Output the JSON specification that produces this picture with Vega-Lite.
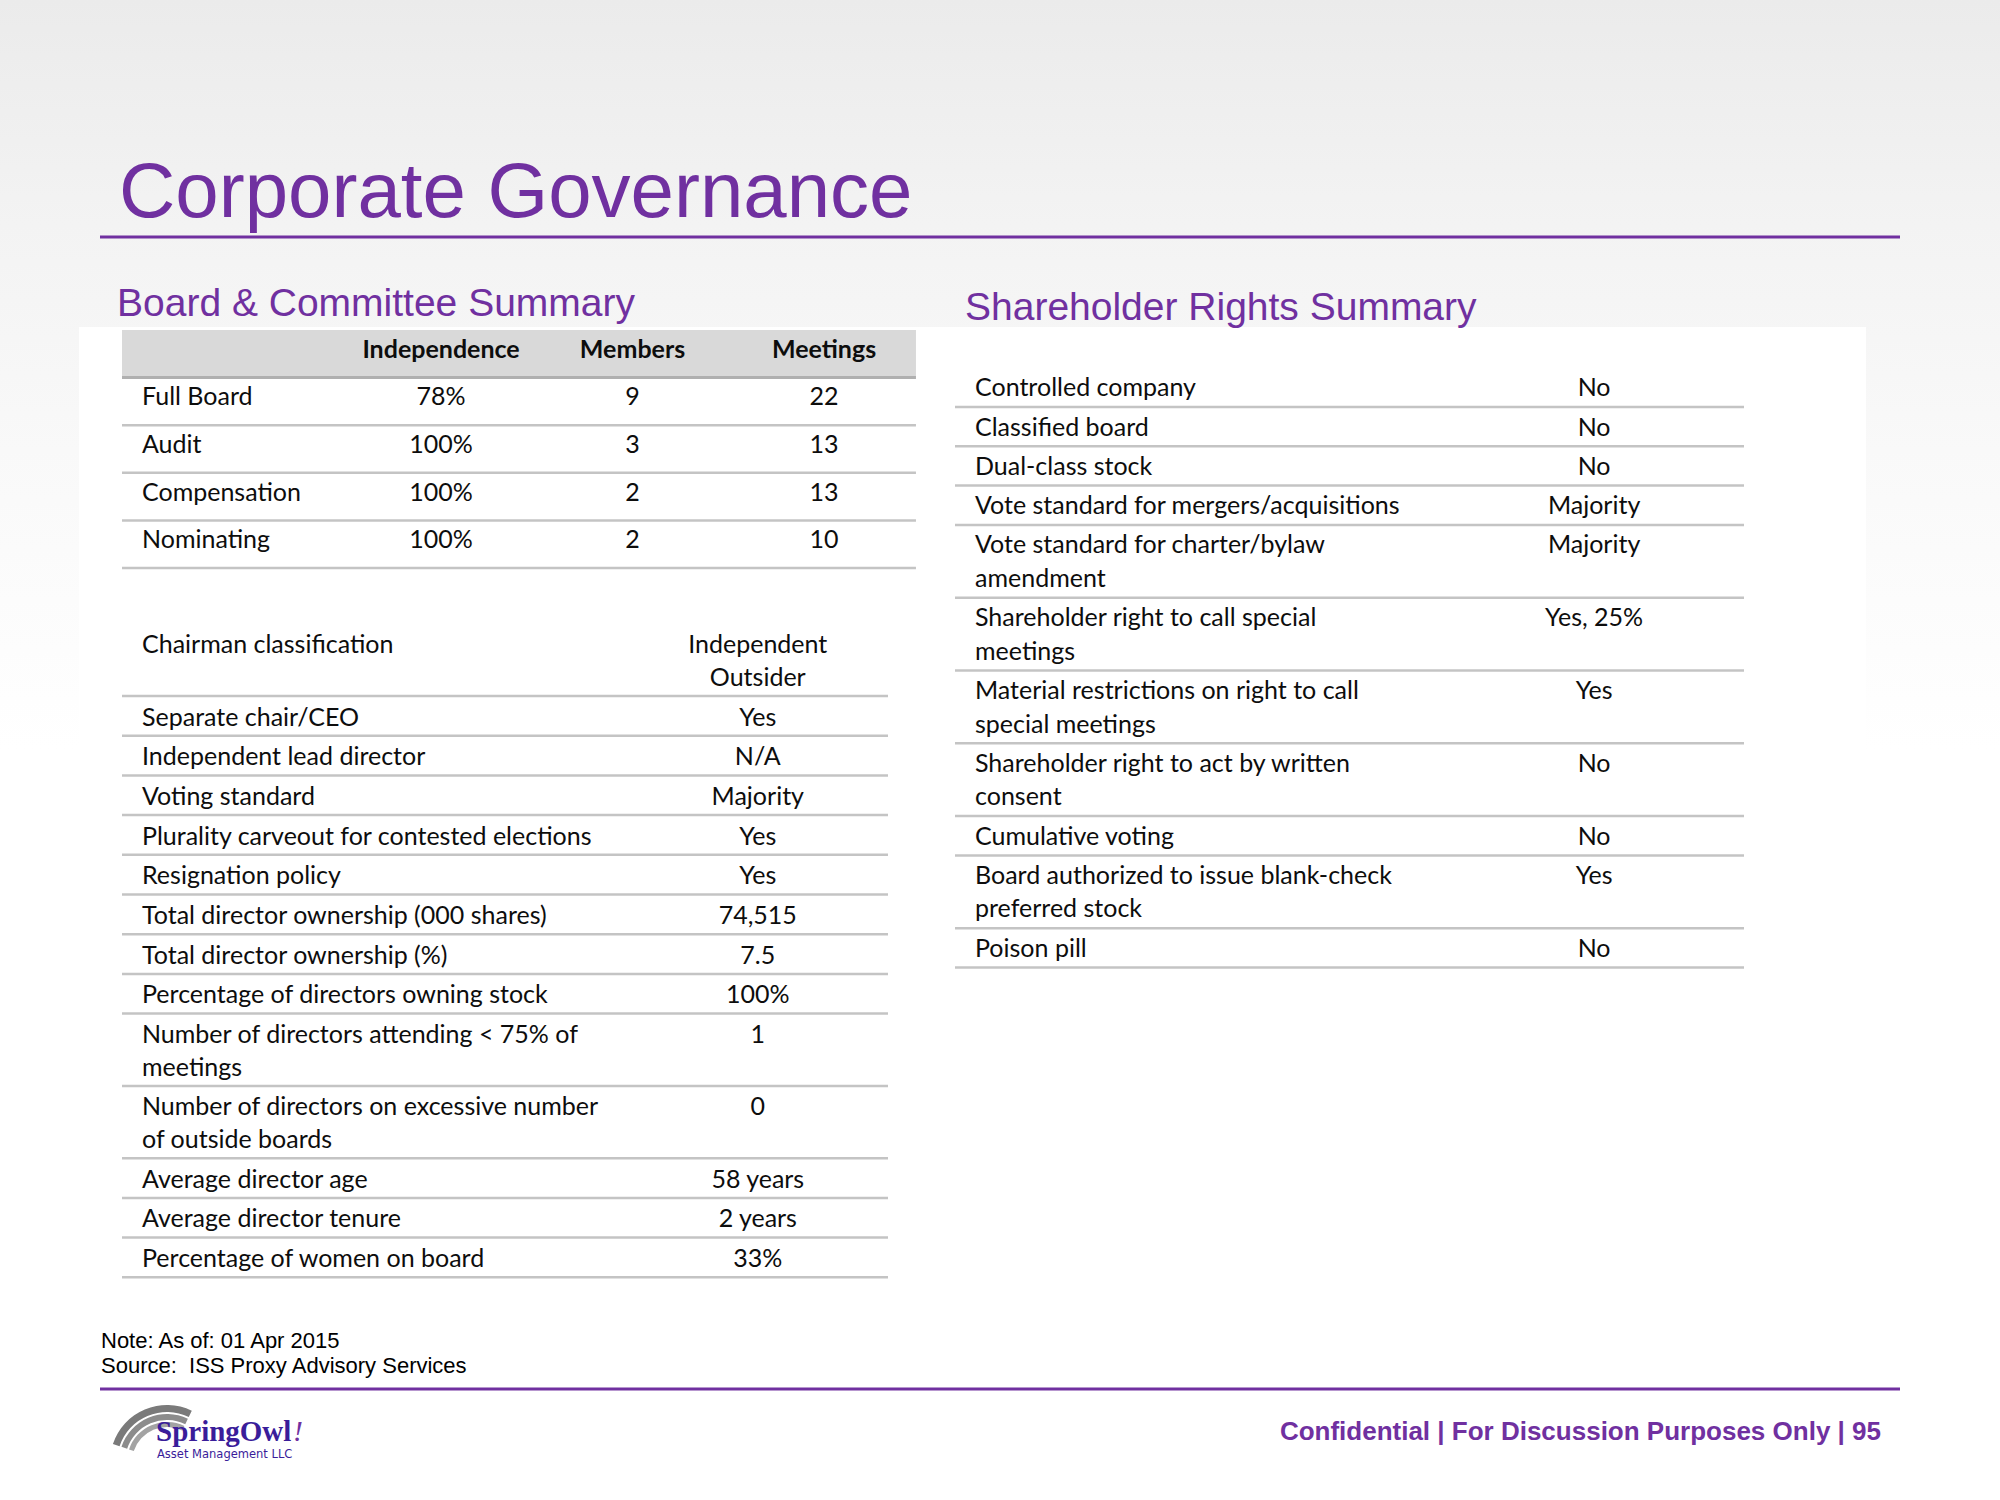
{
  "$schema": "https://vega.github.io/schema/vega-lite/v6.json",
  "width": 2000,
  "height": 1500,
  "autosize": {"type": "fit", "contains": "padding"},
  "padding": 0,
  "background": "#ffffff",
  "config": {"view": {"stroke": null}, "text": {"font": "Lato", "fontSize": 25, "color": "#0d0d0d"}},
  "datasets": {
    "committee": [
      {"committee": "Full Board", "Independence": "78%", "Members": 9, "Meetings": 22},
      {"committee": "Audit", "Independence": "100%", "Members": 3, "Meetings": 13},
      {"committee": "Compensation", "Independence": "100%", "Members": 2, "Meetings": 13},
      {"committee": "Nominating", "Independence": "100%", "Members": 2, "Meetings": 10}
    ],
    "board": [
      {"label": "Chairman classification", "value": "Independent\nOutsider", "lines": 2},
      {"label": "Separate chair/CEO", "value": "Yes", "lines": 1},
      {"label": "Independent lead director", "value": "N/A", "lines": 1},
      {"label": "Voting standard", "value": "Majority", "lines": 1},
      {"label": "Plurality carveout for contested elections", "value": "Yes", "lines": 1},
      {"label": "Resignation policy", "value": "Yes", "lines": 1},
      {"label": "Total director ownership (000 shares)", "value": "74,515", "lines": 1},
      {"label": "Total director ownership (%)", "value": "7.5", "lines": 1},
      {"label": "Percentage of directors owning stock", "value": "100%", "lines": 1},
      {"label": "Number of directors attending < 75% of\nmeetings", "value": "1", "lines": 2},
      {"label": "Number of directors on excessive number\nof outside boards", "value": "0", "lines": 2},
      {"label": "Average director age", "value": "58 years", "lines": 1},
      {"label": "Average director tenure", "value": "2 years", "lines": 1},
      {"label": "Percentage of women on board", "value": "33%", "lines": 1}
    ],
    "rights": [
      {"label": "Controlled company", "value": "No", "lines": 1},
      {"label": "Classified board", "value": "No", "lines": 1},
      {"label": "Dual-class stock", "value": "No", "lines": 1},
      {"label": "Vote standard for mergers/acquisitions", "value": "Majority", "lines": 1},
      {"label": "Vote standard for charter/bylaw\namendment", "value": "Majority", "lines": 2},
      {"label": "Shareholder right to call special\nmeetings", "value": "Yes, 25%", "lines": 2},
      {"label": "Material restrictions on right to call\nspecial meetings", "value": "Yes", "lines": 2},
      {"label": "Shareholder right to act by written\nconsent", "value": "No", "lines": 2},
      {"label": "Cumulative voting", "value": "No", "lines": 1},
      {"label": "Board authorized to issue blank-check\npreferred stock", "value": "Yes", "lines": 2},
      {"label": "Poison pill", "value": "No", "lines": 1}
    ]
  },
  "layer": [
    {
      "data": {"values": [{}]},
      "mark": {"type": "rect", "fill": {"gradient": "linear", "x1": 0, "y1": 0, "x2": 0, "y2": 1, "stops": [{"offset": 0, "color": "#ebebeb"}, {"offset": 0.15, "color": "#f3f3f3"}, {"offset": 0.3, "color": "#f9f9f9"}, {"offset": 0.5, "color": "#ffffff"}, {"offset": 1, "color": "#ffffff"}]}},
      "encoding": {"x": {"value": 0}, "x2": {"value": 2000}, "y": {"value": 0}, "y2": {"value": 1500}}
    },
    {
      "data": {"values": [{}]},
      "mark": {"type": "rect", "fill": "#ffffff"},
      "encoding": {"x": {"value": 79}, "x2": {"value": 1866}, "y": {"value": 327}, "y2": {"value": 1330}}
    },
    {
      "data": {"values": [{"text": "Corporate Governance"}]},
      "mark": {"type": "text", "x": 119, "y": 217, "align": "left", "baseline": "alphabetic", "font": "Liberation Sans", "fontSize": 78, "color": "#7030a0"},
      "encoding": {"text": {"field": "text", "type": "nominal"}}
    },
    {
      "data": {"values": [{}]},
      "mark": {"type": "rule", "stroke": "#7030a0", "strokeWidth": 3},
      "encoding": {"x": {"value": 100}, "x2": {"value": 1900}, "y": {"value": 237}}
    },
    {
      "data": {"values": [{"text": "Board & Committee Summary"}]},
      "mark": {"type": "text", "x": 117, "y": 316, "align": "left", "baseline": "alphabetic", "font": "Liberation Sans", "fontSize": 39, "color": "#7030a0"},
      "encoding": {"text": {"field": "text", "type": "nominal"}}
    },
    {
      "data": {"values": [{"text": "Shareholder Rights Summary"}]},
      "mark": {"type": "text", "x": 965, "y": 320, "align": "left", "baseline": "alphabetic", "font": "Liberation Sans", "fontSize": 39, "color": "#7030a0"},
      "encoding": {"text": {"field": "text", "type": "nominal"}}
    },
    {
      "data": {"name": "committee"},
      "transform": [{"window": [{"op": "row_number", "as": "rn"}]}],
      "layer": [
        {
          "transform": [{"filter": {"field": "rn", "equal": 1}}],
          "mark": {"type": "rect", "color": "#d9d9d9"},
          "encoding": {
            "x": {"datum": "label", "type": "nominal", "bandPosition": 0, "axis": null, "scale": {"type": "band", "domain": ["label", "Independence", "Members", "Meetings"], "range": [122, 888], "paddingInner": 0, "paddingOuter": 0}},
            "x2": {"datum": "Meetings", "bandPosition": 1.146},
            "y": {"datum": 0, "type": "ordinal", "axis": null, "scale": {"type": "band", "domain": [0, 1, 2, 3, 4], "range": [330, 568], "paddingInner": 0, "paddingOuter": 0}}
          }
        },
        {
          "transform": [{"filter": {"field": "rn", "equal": 1}}],
          "mark": {"type": "rule", "stroke": "#b0b0b0", "strokeWidth": 3},
          "encoding": {
            "x": {"datum": "label", "type": "nominal", "bandPosition": 0, "axis": null},
            "x2": {"datum": "Meetings", "bandPosition": 1.146},
            "y": {"datum": 0, "type": "ordinal", "bandPosition": 1, "axis": null}
          }
        },
        {
          "mark": {"type": "rule", "stroke": "#c4c4c4", "strokeWidth": 2.5},
          "encoding": {
            "x": {"datum": "label", "type": "nominal", "bandPosition": 0, "axis": null},
            "x2": {"datum": "Meetings", "bandPosition": 1.146},
            "y": {"field": "rn", "type": "ordinal", "bandPosition": 1, "axis": null}
          }
        },
        {
          "mark": {"type": "text", "align": "left", "baseline": "middle", "dx": 20, "dy": -4},
          "encoding": {
            "x": {"datum": "label", "type": "nominal", "bandPosition": 0, "axis": null},
            "y": {"field": "rn", "type": "ordinal", "axis": null},
            "text": {"field": "committee", "type": "nominal"}
          }
        },
        {
          "transform": [
            {"fold": ["Independence", "Members", "Meetings"], "as": ["column", "val"]},
            {"filter": {"field": "rn", "equal": 1}}
          ],
          "mark": {"type": "text", "align": "center", "baseline": "middle", "dy": -4, "fontWeight": "bold"},
          "encoding": {
            "x": {"field": "column", "type": "nominal", "bandPosition": 0.666, "axis": null},
            "y": {"datum": 0, "type": "ordinal", "axis": null},
            "text": {"field": "column", "type": "nominal"}
          }
        },
        {
          "transform": [{"fold": ["Independence", "Members", "Meetings"], "as": ["column", "val"]}],
          "mark": {"type": "text", "align": "center", "baseline": "middle", "dy": -4},
          "encoding": {
            "x": {"field": "column", "type": "nominal", "bandPosition": 0.666, "axis": null},
            "y": {"field": "rn", "type": "ordinal", "axis": null},
            "text": {"field": "val", "type": "nominal"}
          }
        }
      ]
    },
    {
      "data": {"name": "board"},
      "transform": [
        {"window": [{"op": "row_number", "as": "rn"}]},
        {"stack": "lines", "groupby": [], "sort": [{"field": "rn", "order": "ascending"}], "as": ["prev", "cum"]}
      ],
      "layer": [
        {
          "mark": {"type": "rule", "stroke": "#c4c4c4", "strokeWidth": 2.5},
          "encoding": {
            "x": {"datum": "label", "type": "nominal", "bandPosition": 0, "axis": null, "scale": {"type": "band", "domain": ["label", "value"], "range": [122, 888], "paddingInner": 0, "paddingOuter": 0}},
            "x2": {"datum": "value", "bandPosition": 1},
            "y": {"field": "rn", "type": "ordinal", "bandPosition": 0, "axis": null, "scale": {"type": "band", "domain": [1, 2, 3, 4, 5, 6, 7, 8, 9, 10, 11, 12, 13, 14], "range": [630.8, 730.2], "paddingInner": 0, "paddingOuter": 0}},
            "yOffset": {"field": "cum", "type": "quantitative", "scale": {"type": "linear", "domain": [0, 1], "range": [0, 32.6], "nice": false, "zero": false}}
          }
        },
        {
          "mark": {"type": "text", "align": "left", "baseline": "line-top", "lineHeight": 32.6, "lineBreak": "\n", "dx": 20, "dy": -1.6},
          "encoding": {
            "x": {"datum": "label", "type": "nominal", "bandPosition": 0, "axis": null},
            "y": {"field": "rn", "type": "ordinal", "bandPosition": 0, "axis": null},
            "yOffset": {"field": "prev", "type": "quantitative"},
            "text": {"field": "label", "type": "nominal"}
          }
        },
        {
          "mark": {"type": "text", "align": "center", "baseline": "line-top", "lineHeight": 32.6, "lineBreak": "\n", "dy": -1.6},
          "encoding": {
            "x": {"datum": "value", "type": "nominal", "bandPosition": 0.66, "axis": null},
            "y": {"field": "rn", "type": "ordinal", "bandPosition": 0, "axis": null},
            "yOffset": {"field": "prev", "type": "quantitative"},
            "text": {"field": "value", "type": "nominal"}
          }
        }
      ]
    },
    {
      "data": {"name": "rights"},
      "transform": [
        {"window": [{"op": "row_number", "as": "rn"}]},
        {"stack": "lines", "groupby": [], "sort": [{"field": "rn", "order": "ascending"}], "as": ["prev", "cum"]}
      ],
      "layer": [
        {
          "mark": {"type": "rule", "stroke": "#c4c4c4", "strokeWidth": 2.5},
          "encoding": {
            "x": {"datum": "label", "type": "nominal", "bandPosition": 0, "axis": null, "scale": {"type": "band", "domain": ["label", "value"], "range": [955, 1744], "paddingInner": 0, "paddingOuter": 0}},
            "x2": {"datum": "value", "bandPosition": 1},
            "y": {"field": "rn", "type": "ordinal", "bandPosition": 0, "axis": null, "scale": {"type": "band", "domain": [1, 2, 3, 4, 5, 6, 7, 8, 9, 10, 11], "range": [373.5, 437.3], "paddingInner": 0, "paddingOuter": 0}},
            "yOffset": {"field": "cum", "type": "quantitative", "scale": {"type": "linear", "domain": [0, 1], "range": [0, 33.5], "nice": false, "zero": false}}
          }
        },
        {
          "mark": {"type": "text", "align": "left", "baseline": "line-top", "lineHeight": 33.5, "lineBreak": "\n", "dx": 20, "dy": -1.3},
          "encoding": {
            "x": {"datum": "label", "type": "nominal", "bandPosition": 0, "axis": null},
            "y": {"field": "rn", "type": "ordinal", "bandPosition": 0, "axis": null},
            "yOffset": {"field": "prev", "type": "quantitative"},
            "text": {"field": "label", "type": "nominal"}
          }
        },
        {
          "mark": {"type": "text", "align": "center", "baseline": "line-top", "lineHeight": 33.5, "lineBreak": "\n", "dy": -1.3},
          "encoding": {
            "x": {"datum": "value", "type": "nominal", "bandPosition": 0.62, "axis": null},
            "y": {"field": "rn", "type": "ordinal", "bandPosition": 0, "axis": null},
            "yOffset": {"field": "prev", "type": "quantitative"},
            "text": {"field": "value", "type": "nominal"}
          }
        }
      ]
    },
    {
      "data": {"values": [{"text": "Note: As of: 01 Apr 2015\nSource:\u00a0 ISS Proxy Advisory Services"}]},
      "mark": {"type": "text", "x": 101, "y": 1348, "align": "left", "baseline": "alphabetic", "lineBreak": "\n", "lineHeight": 24.5, "font": "Liberation Sans", "fontSize": 22, "color": "#000000"},
      "encoding": {"text": {"field": "text", "type": "nominal"}}
    },
    {
      "data": {"values": [{}]},
      "mark": {"type": "rule", "stroke": "#7030a0", "strokeWidth": 3},
      "encoding": {"x": {"value": 100}, "x2": {"value": 1900}, "y": {"value": 1389}}
    },
    {
      "data": {"values": [{"text": "Confidential | For Discussion Purposes Only | 95"}]},
      "mark": {"type": "text", "x": 1881, "y": 1440, "align": "right", "baseline": "alphabetic", "font": "Liberation Sans", "fontWeight": "bold", "fontSize": 26, "color": "#7030a0"},
      "encoding": {"text": {"field": "text", "type": "nominal"}}
    },
    {
      "data": {"values": [{"r": 57, "r2": 50, "c": "#7a7a7a"}, {"r": 48, "r2": 42, "c": "#8c8c8c"}, {"r": 40, "r2": 35, "c": "#a3a3a3"}]},
      "mark": {"type": "arc", "x": 167, "y": 1462, "theta": -1.25, "theta2": 0.45},
      "encoding": {
        "radius": {"field": "r", "type": "quantitative", "scale": null},
        "radius2": {"field": "r2", "type": "quantitative", "scale": null},
        "color": {"field": "c", "type": "nominal", "scale": null, "legend": null}
      }
    },
    {
      "data": {"values": [{"text": "SpringOwl"}]},
      "mark": {"type": "text", "x": 156, "y": 1441, "align": "left", "baseline": "alphabetic", "font": "Liberation Serif", "fontWeight": "bold", "fontSize": 29, "color": "#3a1d9a"},
      "encoding": {"text": {"field": "text", "type": "nominal"}}
    },
    {
      "data": {"values": [{"text": "!"}]},
      "mark": {"type": "text", "x": 293, "y": 1441, "align": "left", "baseline": "alphabetic", "font": "Liberation Serif", "fontStyle": "italic", "fontSize": 30, "color": "#7030a0"},
      "encoding": {"text": {"field": "text", "type": "nominal"}}
    },
    {
      "data": {"values": [{"text": "Asset Management LLC"}]},
      "mark": {"type": "text", "x": 157, "y": 1458, "align": "left", "baseline": "alphabetic", "font": "DejaVu Sans", "fontSize": 11.5, "color": "#3a1d9a"},
      "encoding": {"text": {"field": "text", "type": "nominal"}}
    }
  ],
  "resolve": {"scale": {"x": "independent", "y": "independent", "yOffset": "independent"}}
}
